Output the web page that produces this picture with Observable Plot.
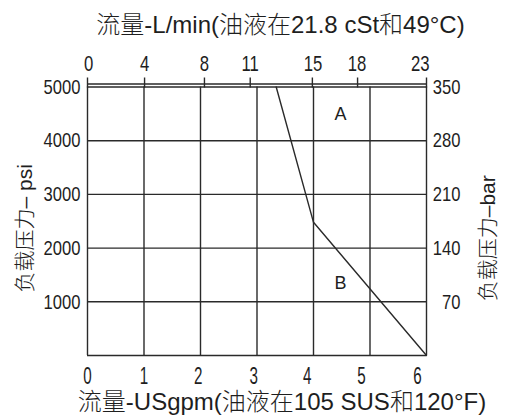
<!DOCTYPE html>
<html><head><meta charset="utf-8">
<script src="https://cdn.jsdelivr.net/npm/d3@7"></script>
<script src="https://cdn.jsdelivr.net/npm/@observablehq/plot@0.6"></script>
<style>body{margin:0;background:#fff} svg{display:block}</style>
</head><body><div id="chart"></div>
<script>
// ---- data ----
const gpmGrid = [0, 1, 2, 3, 4, 5, 6];
const psiGrid = [0, 1000, 2000, 3000, 4000, 5000];
const bottomTickLabels = ["0", "1", "2", "3", "4", "5", "6"];
const bottomTickLabelPos = [0, 1.0, 1.96, 2.94, 3.89, 4.85, 5.84];
const topTickLabels = ["0", "4", "8", "11", "15", "18", "23"];
const topTickPos = [0, 1.01, 2.07, 2.88, 3.98, 4.78, 6.0];
const topTickLabelPos = [0.02, 1.01, 2.07, 2.88, 3.99, 4.77, 5.89];
const leftTickPsi = [1000, 2000, 3000, 4000, 5000];
const leftTickLabels = ["1000", "2000", "3000", "4000", "5000"];
const rightTickLabels = ["70", "140", "210", "280", "350"];
const curveGpm = [3.34, 4.0, 6.0];
const curvePsi = [5000, 2480, 0];
const regionLabels = ["A", "B"];
const regionGpm = [4.48, 4.48];
const regionPsi = [4500, 1340];
const titleTop = "流量-L/min(油液在21.8 cSt和49°C)";
const titleBottom = "流量-USgpm(油液在105 SUS和120°F)";
const yLabelLeft = "负载压力– psi";
const yLabelRight = "负载压力–bar";

// ---- build ----
const ink = "#2a2a2a";
const txt = "#1e1e1e";
const latin = "'Liberation Sans', Arial, sans-serif";
const mixed = "'Liberation Sans', Arial, 'Noto Sans CJK SC', sans-serif";
const curve = curveGpm.map((g, i) => ({gpm: g, psi: curvePsi[i]}));
const idx = (a) => a.map((_, i) => i);

const chart = Plot.plot({
  width: 511,
  height: 416,
  marginLeft: 87,
  marginRight: 85,
  marginTop: 86.5,
  marginBottom: 61,
  x: {domain: [0, 6]},
  y: {domain: [0, 5000], axis: null},
  style: {background: "#fff"},
  marks: [
    Plot.ruleX(gpmGrid, {stroke: ink, strokeWidth: 1.4}),
    Plot.ruleY(psiGrid, {stroke: ink, strokeWidth: 1.4}),
    Plot.ruleY([5000], {stroke: ink, strokeWidth: 1.4, dy: -3}),
    Plot.axisX(topTickPos, {anchor: "top", tickSize: 10, stroke: ink, strokeWidth: 1.4, tickFormat: () => "", label: null}),
    Plot.text(idx(topTickLabels), {x: i => topTickLabelPos[i], text: i => topTickLabels[i], frameAnchor: "top", lineAnchor: "bottom", dy: -16.5, fontSize: 22, fontFamily: latin, fill: txt, className: "condT"}),
    Plot.text(idx(bottomTickLabels), {x: i => bottomTickLabelPos[i], text: i => bottomTickLabels[i], frameAnchor: "bottom", lineAnchor: "bottom", dy: 28, fontSize: 23, fontFamily: latin, fill: txt, className: "condB"}),
    Plot.text(idx(leftTickLabels), {y: i => leftTickPsi[i], text: i => leftTickLabels[i], frameAnchor: "left", textAnchor: "end", lineAnchor: "middle", dx: -7, fontSize: 21, fontFamily: latin, fill: txt, className: "condS"}),
    Plot.text(idx(rightTickLabels), {y: i => leftTickPsi[i], text: i => rightTickLabels[i], frameAnchor: "right", textAnchor: "end", lineAnchor: "middle", dx: 34, fontSize: 21, fontFamily: latin, fill: txt, className: "condS"}),
    Plot.line(curve, {x: "gpm", y: "psi", stroke: ink, strokeWidth: 1.4}),
    Plot.text(idx(regionLabels), {x: i => regionGpm[i], y: i => regionPsi[i], text: i => regionLabels[i], fontSize: 18, fontFamily: mixed, fill: txt}),
    Plot.text([titleTop], {frameAnchor: "top", lineAnchor: "bottom", dy: -54.5, dx: 23.5, fontSize: 24, fontWeight: 300, fontFamily: mixed, fill: txt}),
    Plot.text([titleBottom], {frameAnchor: "bottom", lineAnchor: "bottom", dy: 54.5, dx: 25, fontSize: 24, fontWeight: 300, fontFamily: mixed, fill: txt}),
    Plot.text([yLabelLeft], {frameAnchor: "left", textAnchor: "middle", rotate: -90, dx: -62, dy: 7, fontSize: 21, fontWeight: 300, fontFamily: mixed, fill: txt}),
    Plot.text([yLabelRight], {frameAnchor: "right", textAnchor: "middle", rotate: -90, dx: 62, dy: 17, fontSize: 21, fontWeight: 300, fontFamily: mixed, fill: txt})
  ]
});
document.getElementById("chart").appendChild(chart);
// condense the tick digits (the reference uses a narrow face)
for (const [cls, k] of [["condS", 0.79], ["condT", 0.76], ["condB", 0.66]]) {
  chart.querySelectorAll(`g.${cls} text`).forEach(t => {
    const len = t.getComputedTextLength();
    t.setAttribute("textLength", (len * k).toFixed(2));
    t.setAttribute("lengthAdjust", "spacingAndGlyphs");
  });
}
</script>
</body></html>
